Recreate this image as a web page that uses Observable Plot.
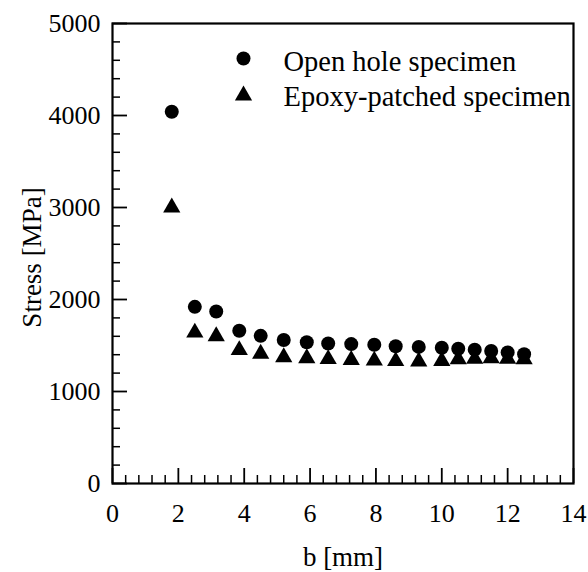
<!DOCTYPE html>
<html>
<head>
<meta charset="utf-8">
<script src="https://cdn.jsdelivr.net/npm/d3@7"></script>
<script src="https://cdn.jsdelivr.net/npm/@observablehq/plot@0.6"></script>
<style>
  html, body { margin: 0; padding: 0; background: #fff; }
  #chart svg { display: block; }
</style>
</head>
<body>
<div id="chart"></div>
<script>
// ---- data ----
const bValues = [1.8, 2.5, 3.15, 3.85, 4.5, 5.2, 5.9, 6.55, 7.25, 7.95, 8.6, 9.3, 10, 10.5, 11, 11.5, 12, 12.5];
const openHole = [4040, 1920, 1870, 1660, 1605, 1560, 1535, 1522, 1515, 1508, 1492, 1485, 1475, 1465, 1455, 1440, 1425, 1405];
const epoxyPatched = [3000, 1640, 1600, 1450, 1410, 1372, 1362, 1352, 1342, 1336, 1330, 1326, 1332, 1350, 1355, 1360, 1356, 1350];
const seriesNames = ["Open hole specimen", "Epoxy-patched specimen"];
const seriesSymbols = ["circle", "triangle"];
const xTickLabels = [0, 2, 4, 6, 8, 10, 12, 14];
const yTickLabels = [0, 1000, 2000, 3000, 4000, 5000];
const xLabel = "b [mm]";
const yLabel = "Stress [MPa]";

// ---- layout ----
const W = 588, H = 572;
const mL = 112, mR = 15, mT = 23, mB = 89;
const innerW = W - mL - mR, innerH = H - mT - mB;
const font = "'Liberation Serif', 'Times New Roman', serif";
const symR = {circle: 7, triangle: 6.4};

const openPts = bValues.map((b, i) => ({b, stress: openHole[i]}));
const epoxyPts = bValues.map((b, i) => ({b, stress: epoxyPatched[i]}));

const xMinor = d3.range(0, 14.001, 0.4).filter(v => Math.abs(v / 2 - Math.round(v / 2)) > 1e-6);
const yMinor = d3.range(0, 5001, 200).filter(v => v % 1000 !== 0);

const legendDy = [35, 72];
const legendTextDy = [38, 73];

const marks = [
  // inward ticks on bottom axis
  Plot.tickX(xMinor, {x: d => d, insetTop: innerH - 8, strokeWidth: 1.5, stroke: "#000"}),
  Plot.tickX(xTickLabels, {x: d => d, insetTop: innerH - 15, strokeWidth: 1.8, stroke: "#000"}),
  // inward ticks on left axis
  Plot.tickY(yMinor, {y: d => d, insetRight: innerW - 8, strokeWidth: 1.5, stroke: "#000"}),
  Plot.tickY(yTickLabels, {y: d => d, insetRight: innerW - 15, strokeWidth: 1.8, stroke: "#000"}),
  Plot.frame({stroke: "#000", strokeWidth: 2.2}),
  Plot.axisX({ticks: xTickLabels, tickSize: 0, tickPadding: 20, fontSize: 26, label: null, tickFormat: d => String(d)}),
  Plot.axisY({ticks: yTickLabels, tickSize: 0, tickPadding: 12, fontSize: 26, label: null, tickFormat: d => String(d)}),
  Plot.dot(openPts, {x: "b", y: "stress", symbol: () => seriesSymbols[0], r: symR.circle, fill: "#000", stroke: "none"}),
  Plot.dot(epoxyPts, {x: "b", y: "stress", symbol: () => seriesSymbols[1], r: symR.triangle, fill: "#000", stroke: "none"}),
  Plot.text([xLabel], {frameAnchor: "bottom", text: d => d, dy: 74, fontSize: 27, lineAnchor: "middle"}),
  Plot.text([yLabel], {frameAnchor: "left", text: d => d, rotate: -90, dx: -80, dy: 4, fontSize: 27, lineAnchor: "middle", textAnchor: "middle"})
];

seriesNames.forEach((name, i) => {
  const sym = seriesSymbols[i];
  marks.push(Plot.dot([name], {frameAnchor: "top-left", dx: 131, dy: legendDy[i], symbol: () => sym, r: symR[sym], fill: "#000", stroke: "none"}));
  marks.push(Plot.text([name], {frameAnchor: "top-left", dx: 171, dy: legendTextDy[i], text: d => d, textAnchor: "start", lineAnchor: "middle", fontSize: 28.5, fill: "#000"}));
});

const chart = Plot.plot({
  width: W,
  height: H,
  marginLeft: mL,
  marginRight: mR,
  marginTop: mT,
  marginBottom: mB,
  style: {fontFamily: font, fontSize: "26px", color: "#000", background: "#fff"},
  x: {domain: [0, 14]},
  y: {domain: [0, 5000]},
  symbol: {domain: seriesNames, range: seriesSymbols},
  marks
});
document.getElementById("chart").appendChild(chart);
</script>
</body>
</html>
